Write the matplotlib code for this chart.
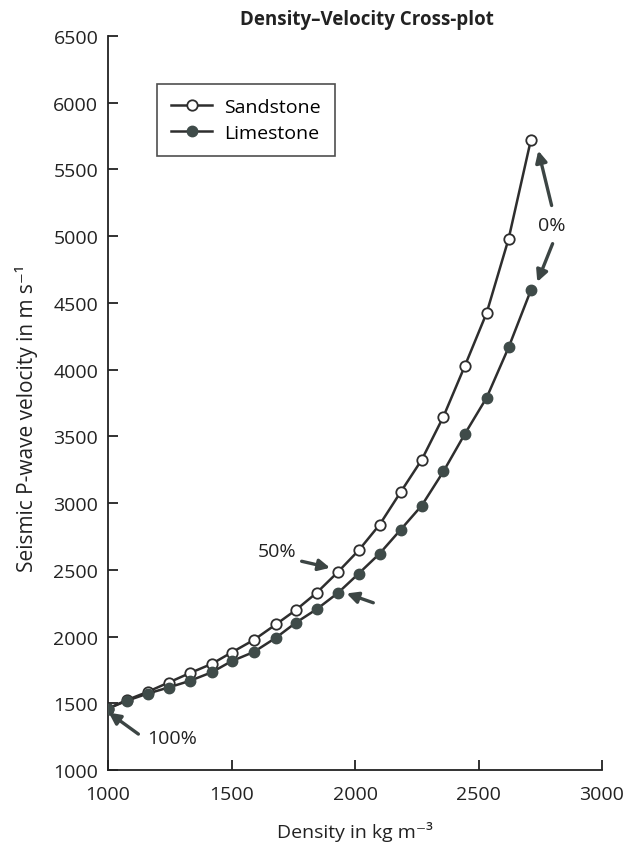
import matplotlib.pyplot as plt
import numpy as np

plt.rcParams['font.family'] = ['Open Sans', 'DejaVu Sans']

# density in kg/m3 (porosity from 100% down to 0%)
density = [1000, 1075, 1160, 1245, 1330, 1420, 1500, 1590, 1680, 1760, 1845,
           1930, 2015, 2100, 2185, 2270, 2358, 2445, 2533, 2622, 2712]
sandstone = [1460, 1523, 1585, 1655, 1725, 1795, 1880, 1974, 2091, 2198, 2328,
             2482, 2646, 2839, 3083, 3324, 3648, 4029, 4425, 4981, 5721]
limestone = [1460, 1518, 1572, 1618, 1667, 1732, 1815, 1884, 1991, 2103, 2205,
             2325, 2472, 2622, 2801, 2981, 3237, 3519, 3790, 4167, 4595]

xticks = [1000, 1500, 2000, 2500, 3000]
yticks = [1000, 1500, 2000, 2500, 3000, 3500, 4000, 4500, 5000, 5500, 6000, 6500]

line_col = '#2e2e2e'
fill_col = '#3f4b49'
arrow_col = '#3c4544'
fs = 14

fig = plt.figure(figsize=(6.25, 8.45), dpi=100)
ax = fig.add_axes([0.1728, 0.0876, 0.7904, 0.8686])

ax.plot(density, sandstone, '-o', color=line_col, lw=1.8, ms=7.5,
        mfc='white', mec=line_col, mew=1.3, label='Sandstone', zorder=3)
ax.plot(density, limestone, '-o', color=line_col, lw=1.8, ms=7.5,
        mfc=fill_col, mec=fill_col, mew=1.0, label='Limestone', zorder=3)

ax.set_xlim(1000, 3000)
ax.set_ylim(1000, 6500)
ax.set_xticks(xticks)
ax.set_yticks(yticks)
for s in ['top', 'right']:
    ax.spines[s].set_visible(False)
for s in ['left', 'bottom']:
    ax.spines[s].set_linewidth(1.3)
    ax.spines[s].set_color('#222222')
ax.tick_params(direction='in', length=7, width=1.3, labelsize=fs,
               colors='#222222')
ax.tick_params(axis='x', pad=11)
ax.tick_params(axis='y', pad=7)

ax.set_xlabel('Density in kg m\u207b\u00b3', fontsize=fs, labelpad=13, color='#222222')
ax.set_ylabel('Seismic P-wave velocity in m s\u207b\u00b9', fontsize=15,
              color='#222222')
ax.yaxis.set_label_coords(-0.142, 0.481)
ax.set_title('Density\u2013Velocity Cross-plot', fontsize=13.5, x=0.524,
             fontweight='bold', pad=9, color='#222222')

leg = ax.legend(loc='upper left', bbox_to_anchor=(0.099, 0.935), fontsize=fs,
                frameon=True, fancybox=False, edgecolor='#222222',
                handlelength=2.1, borderpad=0.75, labelspacing=0.38,
                handletextpad=0.6, borderaxespad=0)
leg.get_frame().set_linewidth(1.2)

ap = dict(arrowstyle='-|>', lw=2.4, color=arrow_col, mutation_scale=17,
          shrinkA=0, shrinkB=0)
ax.text(2796, 5081, '0%', fontsize=fs, ha='center', va='center', color='#222222')
ax.annotate('', xy=(2742, 5641), xytext=(2796, 5230), arrowprops=ap)
ax.annotate('', xy=(2738, 4657), xytext=(2800, 4944), arrowprops=ap)
ax.text(1683, 2639, '50%', fontsize=fs, ha='center', va='center', color='#222222')
ax.annotate('', xy=(1899, 2515), xytext=(1784, 2564), arrowprops=ap)
ax.annotate('', xy=(1966, 2323), xytext=(2074, 2253), arrowprops=ap)
ax.text(1258, 1237, '100%', fontsize=fs, ha='center', va='center', color='#222222')
ax.annotate('', xy=(1003, 1430), xytext=(1123, 1269), arrowprops=ap)

fig.savefig('out.png', dpi=100)
